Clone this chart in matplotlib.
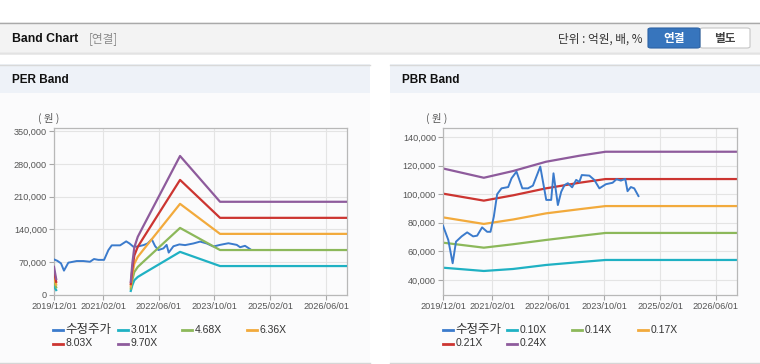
import numpy as np
import pandas as pd
import matplotlib
matplotlib.use("Agg")
import matplotlib.pyplot as plt
from matplotlib.patches import Rectangle, FancyBboxPatch
from matplotlib.lines import Line2D
from matplotlib.ticker import FuncFormatter

plt.rcParams['font.family'] = ['Liberation Sans', 'Noto Sans CJK KR', 'DejaVu Sans']

# ---------------- DATA ----------------
x_ticks = ['2019/12/01', '2021/02/01', '2022/06/01', '2023/10/01', '2025/02/01', '2026/06/01']
x_start = '2019-12-01'
x_end = '2026-12-01'

price_label = '수정주가'

# PER chart
per_price_dates = ['2019-12-01', '2019-12-30', '2020-01-31', '2020-02-26', '2020-04-04', '2020-06-16',
                   '2020-08-13', '2020-10-10', '2020-11-14', '2020-12-22', '2021-02-10', '2021-03-20',
                   '2021-04-18', '2021-06-30', '2021-08-22', '2021-09-20', '2021-10-24', '2021-12-01',
                   '2022-01-20', '2022-02-25', '2022-04-02', '2022-05-01', '2022-05-30', '2022-07-13',
                   '2022-08-10', '2022-08-28', '2022-10-08', '2022-11-29', '2023-01-18', '2023-03-31',
                   '2023-05-29', '2023-07-26', '2023-09-22', '2023-11-19', '2024-01-31', '2024-04-13',
                   '2024-05-12', '2024-06-24', '2024-08-07']
per_price = [76000, 73000, 67600, 52000, 69000, 72500,
             72500, 71000, 76800, 75000, 75000, 96000,
             106000, 106000, 114500, 110000, 103000, 103500,
             106500, 110000, 119000, 104500, 96000, 99500,
             107000, 90500, 104000, 108000, 106500, 110000,
             114000, 110000, 103500, 107000, 110500, 107000,
             102000, 105000, 98000]

per_band_dates = ['2019-12-01', '2019-12-20', '2020-06-01', '2021-10-01', '2021-10-15', '2021-11-01',
                  '2021-12-01', '2022-01-15', '2022-12-05', '2023-11-19', '2026-12-01']
per_band_labels = ['3.01X', '4.68X', '6.36X', '8.03X', '9.70X']
per_band_301 = [18700, 10500, np.nan, 8700, 21100, 31600, 38500, 45200, 92100, 61800, 61800]
per_band_468 = [29000, 16400, np.nan, 13600, 32800, 49100, 59900, 70200, 143200, 96000, 96000]
per_band_636 = [39400, 22300, np.nan, 18400, 44500, 66800, 81400, 95400, 194600, 130500, 130500]
per_band_803 = [49800, 28100, np.nan, 23300, 56200, 84300, 102800, 120500, 245700, 164700, 164700]
per_band_970 = [60100, 34000, np.nan, 28100, 67900, 101900, 124200, 145500, 296800, 199000, 199000]
per_yticks = [0, 70000, 140000, 210000, 280000, 350000]

# PBR chart
pbr_price_dates = ['2019-12-01', '2020-01-16', '2020-02-23', '2020-03-23', '2020-05-11', '2020-06-28',
                   '2020-08-19', '2020-09-23', '2020-11-05', '2020-12-19', '2021-01-17', '2021-02-15',
                   '2021-03-16', '2021-04-23', '2021-06-20', '2021-07-19', '2021-08-31', '2021-10-21',
                   '2021-12-09', '2022-01-21', '2022-03-26', '2022-05-17', '2022-06-29', '2022-07-19',
                   '2022-08-26', '2022-09-24', '2022-10-23', '2022-11-21', '2022-12-28', '2023-02-01',
                   '2023-03-01', '2023-03-22', '2023-05-27', '2023-07-09', '2023-08-22', '2023-10-18',
                   '2023-12-15', '2024-01-18', '2024-02-25', '2024-04-03', '2024-04-23', '2024-05-22',
                   '2024-06-20', '2024-07-27']
pbr_price = [78000, 68000, 51700, 66800, 70500, 73300,
             70500, 71000, 76800, 73700, 73700, 84300,
             100000, 104100, 105000, 111100, 115800, 104100,
             104100, 106000, 119300, 96000, 96000, 114600,
             92400, 101700, 106400, 107700, 104800, 110000,
             108600, 113400, 113000, 110000, 104100, 107000,
             108000, 110500, 109500, 110700, 102100, 105000,
             104100, 98700]

pbr_band_dates = ['2019-12-01', '2020-11-20', '2021-08-01', '2022-05-15', '2023-03-01', '2023-10-15', '2026-12-01']
pbr_band_labels = ['0.10X', '0.14X', '0.17X', '0.21X', '0.24X']
pbr_band_010 = [48600, 46300, 47700, 50500, 52500, 54000, 54000]
pbr_band_014 = [66100, 62600, 65000, 68000, 70800, 72900, 72900]
pbr_band_017 = [83800, 79200, 82300, 86600, 89500, 91700, 91700]
pbr_band_021 = [100400, 95500, 99200, 104100, 108000, 110600, 110600]
pbr_band_024 = [118000, 111500, 116200, 122700, 126900, 129700, 129700]
pbr_yticks = [40000, 60000, 80000, 100000, 120000, 140000]

price_color = '#3b7bcc'
band_colors = ['#1fb1c3', '#8cb85a', '#f2aa3c', '#cc3531', '#8e5b9c']

# ---------------- FIGURE ----------------
W, H = 760, 364
fig = plt.figure(figsize=(W / 100, H / 100), dpi=100)
fig.patch.set_facecolor('white')


def fx(x):
    return x / W


def fy(y):
    return 1 - y / H


def rect(x0, y0, x1, y1, fc, ec='none', lw=0, z=-10):
    fig.patches.append(Rectangle((fx(x0), fy(y1)), fx(x1) - fx(x0), fy(y0) - fy(y1),
                                 transform=fig.transFigure, facecolor=fc, edgecolor=ec,
                                 linewidth=lw, zorder=z))


def hline(x0, x1, y, color, lw=1.0, z=-9):
    fig.lines.append(Line2D([fx(x0), fx(x1)], [fy(y), fy(y)], transform=fig.transFigure,
                            color=color, linewidth=lw, zorder=z))


KR = ['Noto Sans CJK KR', 'DejaVu Sans']

# header bar
rect(0, 22, W, 53, '#f3f3f3')
hline(0, W, 22.5, '#a9a9a9', 1.0)
hline(0, W, 52.8, '#cfcfcf', 1.0)
hline(0, W, 54.2, '#e8e8e8', 1.2)
fig.text(fx(12), fy(39), 'Band Chart', fontsize=8.8, fontweight='bold', color='#111111', va='center')
fig.text(fx(89), fy(39), '[연결]', fontsize=8.4, color='#8a8a8a', va='center', family=KR)
fig.text(fx(642), fy(39), '단위 : 억원, 배, %', fontsize=8.4, color='#333333', va='center', ha='right', family=KR)
# buttons
fig.patches.append(FancyBboxPatch((fx(700), fy(48)), fx(750) - fx(700), fy(28) - fy(48),
                                  boxstyle='round,pad=0,rounding_size=0.004', transform=fig.transFigure,
                                  facecolor='white', edgecolor='#c6c6c6', linewidth=0.8, zorder=2))
fig.patches.append(FancyBboxPatch((fx(648), fy(48)), fx(700) - fx(648), fy(28) - fy(48),
                                  boxstyle='round,pad=0,rounding_size=0.004', transform=fig.transFigure,
                                  facecolor='#3775bd', edgecolor='#2d63a5', linewidth=0.8, zorder=3))
fig.text(fx(674), fy(38.5), '연결', fontsize=8.4, fontweight='bold', color='white', va='center', ha='center',
         family=KR, zorder=4)
fig.text(fx(725), fy(38.5), '별도', fontsize=8.4, fontweight='bold', color='#444444', va='center', ha='center',
         family=KR, zorder=4)

# panels
for (px0, px1, title) in [(0, 370, 'PER Band'), (390, 760, 'PBR Band')]:
    rect(px0, 93, px1, 363, '#fbfbfc')
    rect(px0, 64, px1, 93, '#eef2f8')
    hline(px0, px1, 64.5, '#d9d9d9', 1.0)
    hline(px0, px1, 363, '#d6d6d6', 1.0)
    fig.text(fx(px0 + 12), fy(80), title, fontsize=8.5, fontweight='bold', color='#111111', va='center')


def setup_axes(left, right, top, bottom, ylim, yticks):
    ax = fig.add_axes([fx(left), fy(bottom), fx(right) - fx(left), fy(top) - fy(bottom)])
    ax.set_zorder(5)
    ax.set_facecolor('none')
    ax.set_xlim(pd.Timestamp(x_start), pd.Timestamp(x_end))
    ax.set_ylim(*ylim)
    ax.set_xticks([pd.Timestamp(t.replace('/', '-')) for t in x_ticks])
    ax.set_xticklabels(x_ticks)
    ax.set_yticks(yticks)
    ax.yaxis.set_major_formatter(FuncFormatter(lambda v, p: f'{v:,.0f}'))
    ax.grid(True, color='#e4e4e4', linewidth=0.8, zorder=0)
    ax.set_axisbelow(True)
    for s in ax.spines.values():
        s.set_color('#b8b8b8')
        s.set_linewidth(0.9)
    ax.tick_params(length=3.5, width=0.8, color='#a8a8a8', labelcolor='#555555', labelsize=6.6, pad=1.5)
    return ax


def legend(x_cols, labels, colors, y_rows=(330, 343.5)):
    for i, (lab, col) in enumerate(zip(labels, colors)):
        r, c = divmod(i, 4)
        x0 = x_cols[c]
        y = y_rows[r]
        fig.lines.append(Line2D([fx(x0), fx(x0 + 10)], [fy(y), fy(y)], transform=fig.transFigure,
                                color=col, linewidth=2.0))
        if any(ord(ch) > 0x1100 for ch in lab):
            fig.text(fx(x0 + 12.5), fy(y), lab, fontsize=9, color='#333333', va='center', family=KR)
        else:
            fig.text(fx(x0 + 12.5), fy(y), lab, fontsize=7.5, color='#333333', va='center')


# PER
ax1 = setup_axes(54, 347, 128, 295, (0, 356500), per_yticks)
ax1.plot(pd.to_datetime(per_price_dates), per_price, color=price_color, linewidth=1.4, zorder=3)
per_bands = [per_band_301, per_band_468, per_band_636, per_band_803, per_band_970]
for vals, col in zip(per_bands, band_colors):
    ax1.plot(pd.to_datetime(per_band_dates), vals, color=col, linewidth=1.6, zorder=4)
fig.text(fx(49), fy(118), '( 원 )', fontsize=7.5, color='#555555', ha='center', va='center', family=KR)
legend([53, 118, 182, 247], [price_label] + per_band_labels, [price_color] + band_colors)

# PBR
ax2 = setup_axes(443, 737, 128, 295, (29500, 146300), pbr_yticks)
ax2.plot(pd.to_datetime(pbr_price_dates), pbr_price, color=price_color, linewidth=1.4, zorder=3)
pbr_bands = [pbr_band_010, pbr_band_014, pbr_band_017, pbr_band_021, pbr_band_024]
for vals, col in zip(pbr_bands, band_colors):
    ax2.plot(pd.to_datetime(pbr_band_dates), vals, color=col, linewidth=1.6, zorder=2)
fig.text(fx(437), fy(118), '( 원 )', fontsize=7.5, color='#555555', ha='center', va='center', family=KR)
legend([443, 507, 572, 638], [price_label] + pbr_band_labels, [price_color] + band_colors)

fig.savefig('out.png', dpi=100, facecolor=fig.get_facecolor())
